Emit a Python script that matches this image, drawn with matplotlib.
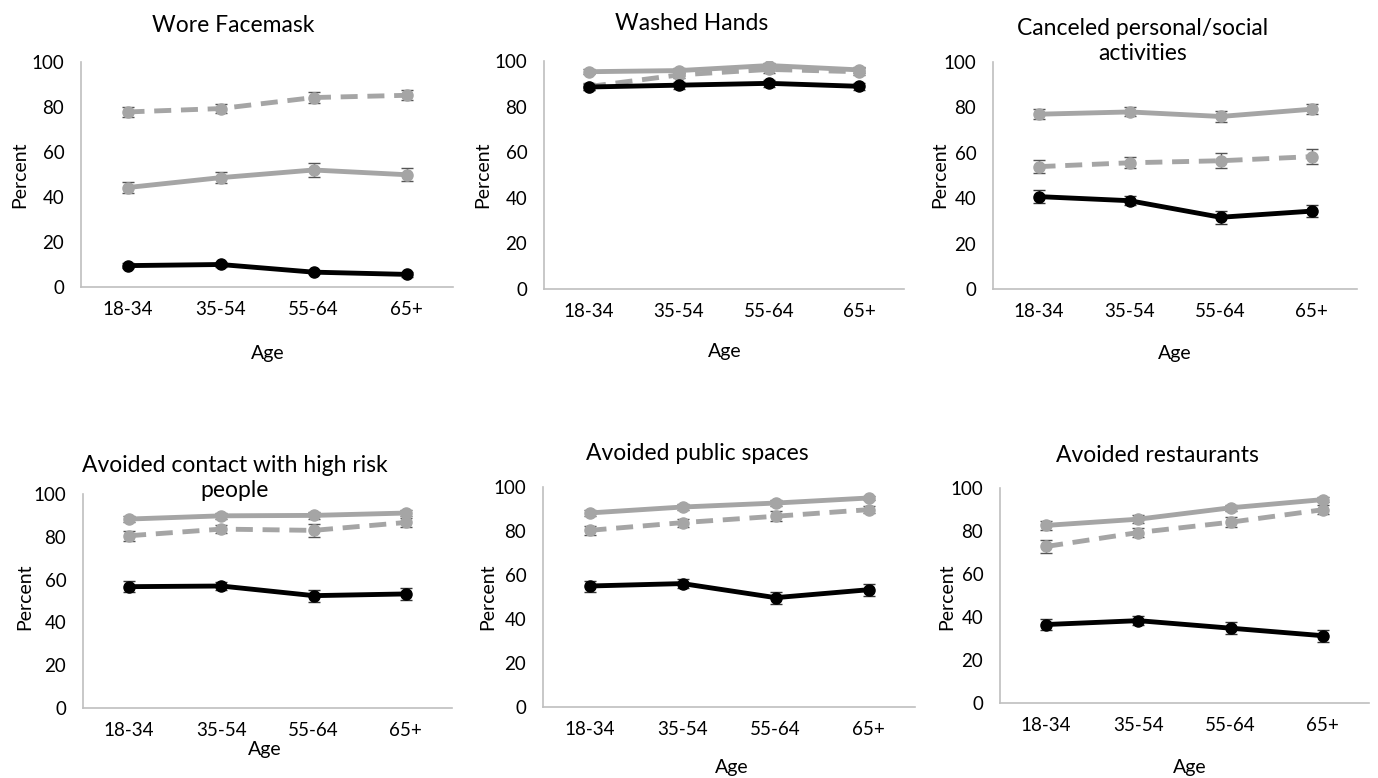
import numpy as np
import matplotlib.pyplot as plt

plt.rcParams['font.family'] = ['Lato', 'DejaVu Sans']

ages = ['18-34', '35-54', '55-64', '65+']
titles = ['Wore Facemask', 'Washed Hands', 'Canceled personal/social\nactivities',
          'Avoided contact with high risk\npeople', 'Avoided public spaces', 'Avoided restaurants']

# three groups per panel: gray solid, gray dashed, black solid
gray_solid = [[44.2, 48.6, 52.0, 49.9],
              [95.3, 95.8, 98.0, 96.1],
              [77.0, 78.0, 76.0, 79.2],
              [88.3, 89.8, 90.0, 91.1],
              [88.2, 90.9, 92.7, 95.0],
              [82.6, 85.5, 90.8, 94.6]]
gray_dash = [[77.8, 79.3, 84.2, 85.2],
             [88.8, 93.9, 96.3, 95.3],
             [53.9, 55.6, 56.5, 58.3],
             [80.5, 83.6, 83.0, 86.7],
             [80.3, 83.8, 86.7, 89.7],
             [72.8, 79.3, 84.1, 89.9]]
black = [[9.5, 10.0, 6.6, 5.6],
         [88.6, 89.4, 90.2, 88.9],
         [40.7, 38.9, 31.6, 34.3],
         [56.7, 57.0, 52.5, 53.3],
         [55.0, 56.1, 49.7, 53.3],
         [36.5, 38.3, 34.8, 31.3]]
err_solid = [[2.5, 2.3, 3.0, 2.8], [1.2, 1.2, 1.0, 1.2], [2.3, 2.0, 2.5, 2.3],
             [1.5, 1.3, 1.5, 1.3], [1.5, 1.3, 1.5, 1.0], [2.0, 1.8, 1.5, 1.2]]
err_dash = [[2.3, 2.0, 2.3, 2.3], [1.5, 1.5, 1.5, 1.5], [3.0, 2.5, 3.2, 3.2],
            [2.3, 2.0, 3.0, 2.0], [2.0, 1.8, 2.3, 1.5], [2.8, 2.3, 2.3, 2.0]]
err_black = [[1.0, 1.0, 1.0, 1.0], [1.5, 1.5, 1.5, 1.5], [3.0, 2.0, 2.8, 2.5],
             [2.5, 2.0, 2.8, 2.8], [2.5, 2.0, 2.8, 2.8], [2.5, 2.0, 2.8, 2.8]]

# layout in pixels: axes [left, top, width, height], title (x, y), ylabel (x, y), xlabel (x, y)
W, H = 1378, 778
boxes = [[81, 62, 372, 225], [544, 61, 360, 228], [993, 62, 364, 227],
         [83, 494, 369, 214], [543, 487, 372, 220], [1000, 488, 369, 215]]
title_pos = [(233, 25), (692, 24), (1143, 41), (235, 478), (697, 454), (1157, 456)]
ylab_pos = [(20, 175), (483, 175), (940, 175), (25, 597), (488, 597), (947, 597)]
xlab_pos = [(268, 353), (725, 352), (1175, 354), (265, 750), (732, 767), (1190, 767)]

gray = '#A5A5A5'
fig = plt.figure(figsize=(W / 100, H / 100), dpi=100)
x = np.arange(len(ages))

for i in range(6):
    l, t, w, h = boxes[i]
    ax = fig.add_axes([l / W, 1 - (t + h) / H, w / W, h / H])
    ax.errorbar(x, gray_solid[i], yerr=err_solid[i], color=gray, lw=3.5, marker='o', ms=8,
                ecolor='#555555', elinewidth=1, capsize=4, capthick=1)
    ax.errorbar(x, gray_dash[i], yerr=err_dash[i], color=gray, lw=3.5, marker='o', ms=8,
                ls=(0, (3.5, 2)), ecolor='#555555', elinewidth=1, capsize=4, capthick=1)
    ax.errorbar(x, black[i], yerr=err_black[i], color='black', lw=3.5, marker='o', ms=8,
                ecolor='#333333', elinewidth=1, capsize=4, capthick=1)
    ax.set_xlim(-0.5, 3.5)
    ax.set_ylim(0, 100)
    ax.set_yticks([0, 20, 40, 60, 80, 100])
    ax.set_xticks(x)
    ax.set_xticklabels(ages)
    ax.tick_params(length=0, labelsize=13.5, pad=10)
    ax.tick_params(axis='y', pad=12)
    for s in ['top', 'right']:
        ax.spines[s].set_visible(False)
    for s in ['left', 'bottom']:
        ax.spines[s].set_color('#BFBFBF')
        ax.spines[s].set_linewidth(1.2)
    ax.set_facecolor('none')

    fig.text(title_pos[i][0] / W, 1 - title_pos[i][1] / H, titles[i], ha='center', va='center',
             fontsize=16.5, linespacing=1.2)
    fig.text(ylab_pos[i][0] / W, 1 - ylab_pos[i][1] / H, 'Percent', ha='center', va='center',
             rotation=90, fontsize=14)
    fig.text(xlab_pos[i][0] / W, 1 - xlab_pos[i][1] / H, 'Age', ha='center', va='center',
             fontsize=14)

fig.savefig('out.png', dpi=100, facecolor='white')
